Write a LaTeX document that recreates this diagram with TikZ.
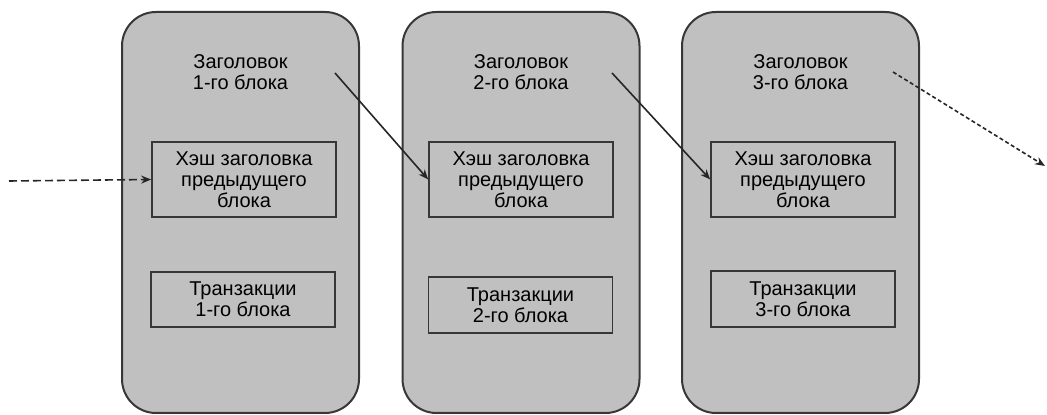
\documentclass[tikz,border=0pt]{standalone}
\usepackage{fontspec}
\setmainfont{Liberation Sans}
\usetikzlibrary{arrows.meta}

\definecolor{blockgray}{RGB}{192,192,192}
\definecolor{edgegray}{RGB}{55,55,55}

\tikzset{
    block/.style={draw=edgegray,line width=1pt,fill=blockgray,rounded corners=17pt,
        minimum width=118.5pt,minimum height=200.5pt,inner sep=0pt},
    field/.style={draw=edgegray,line width=0.8pt,fill=blockgray,minimum width=92pt,
        inner sep=0pt,align=center},
    title/.style={align=center,inner sep=0pt},
    link/.style={-{Stealth[length=5pt,width=4pt]},line width=0.8pt,black!85},
}

\begin{document}
\begin{tikzpicture}[x=0.5pt,y=-0.5pt,font=\fontsize{10}{10.6}\selectfont]
        \useasboundingbox (0,0) rectangle (1047,415);

        % three blocks of the chain
        \node[block] at (240.5,212.5) (blk1) {};
        \node[block] at (521,212.5)   (blk2) {};
        \node[block] at (800.5,212.5) (blk3) {};

        \node[title] at (240.5,72) (head1) {Заголовок\\1-го блока};
        \node[title] at (521,72)   (head2) {Заголовок\\2-го блока};
        \node[title] at (800.5,72) (head3) {Заголовок\\3-го блока};

        \node[field,minimum height=37.5pt] at (244,179.5) (hash1) {Хэш заголовка\\предыдущего\\блока};
        \node[field,minimum height=37.5pt] at (521,179.5) (hash2) {Хэш заголовка\\предыдущего\\блока};
        \node[field,minimum height=37.5pt] at (803,179.5) (hash3) {Хэш заголовка\\предыдущего\\блока};

        \node[field,minimum height=27.5pt] at (243,299.5) (tx1) {Транзакции\\1-го блока};
        \node[field,minimum height=28pt]   at (520.5,305) (tx2) {Транзакции\\2-го блока};
        \node[field,minimum height=28pt]   at (803,299)   (tx3) {Транзакции\\3-го блока};

        % links between the headers
        \coordinate (in)   at (9,181);
        \coordinate (out1) at (335,73);
        \coordinate (out2) at (612,73);
        \coordinate (out3) at (893,72);
        \coordinate (next) at (1045,166);

        \draw[link,dash pattern=on 4pt off 2pt] (in) -- (hash1.west);
        \draw[link] (out1) -- (hash2.west);
        \draw[link] (out2) -- (hash3.west);
        \draw[link,dash pattern=on 2pt off 1.3pt] (out3) -- (next);
    \end{tikzpicture}
\end{document}
